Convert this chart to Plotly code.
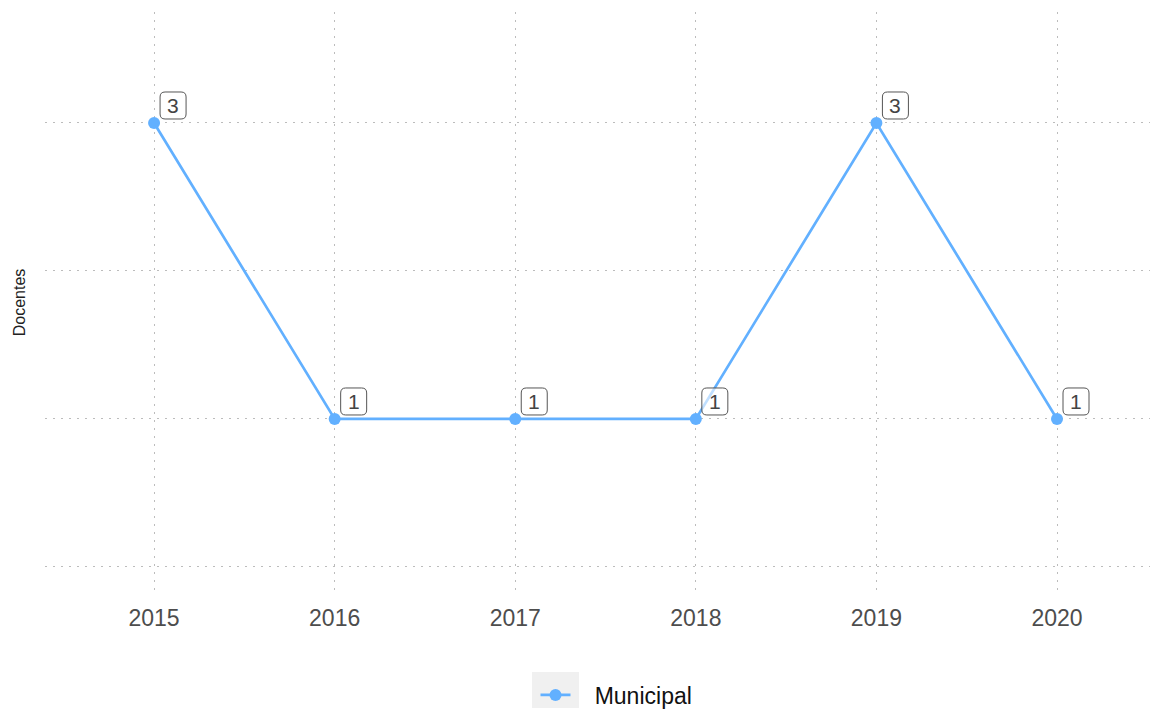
import plotly.graph_objects as go

years = [2015, 2016, 2017, 2018, 2019, 2020]
docentes = [3, 1, 1, 1, 3, 1]
series_name = "Municipal"

line_color = "#62b0ff"
grid_color = "#bcbcbc"
font_family = "Liberation Sans, Arial, sans-serif"

# plot-area geometry in pixels (used for paper-coordinate placement)
W, H = 1157, 709
L, R, T, B = 45, 7, 12, 116
PW, PH = W - L - R, H - T - B

fig = go.Figure()
fig.add_trace(go.Scatter(
    x=years, y=docentes, name="&nbsp;&nbsp;&nbsp;" + series_name,
    mode="lines+markers",
    line=dict(color=line_color, width=2.7),
    marker=dict(color=line_color, size=12),
    showlegend=True,
))

# value labels in rounded boxes, offset up-right of each point
def rounded_box(x0, y0, x1, y1, r):
    return (f"M{x0+r},{y0} L{x1-r},{y0} Q{x1},{y0} {x1},{y0+r} "
            f"L{x1},{y1-r} Q{x1},{y1} {x1-r},{y1} L{x0+r},{y1} "
            f"Q{x0},{y1} {x0},{y1-r} L{x0},{y0+r} Q{x0},{y0} {x0+r},{y0} Z")

for xv, yv in zip(years, docentes):
    fig.add_shape(
        type="path", xref="x", yref="y",
        xsizemode="pixel", ysizemode="pixel",
        xanchor=xv, yanchor=yv,
        path=rounded_box(6, 4, 32, 31, 5),
        line=dict(color="#555555", width=1),
        fillcolor="rgba(255,255,255,0.6)",
        layer="above",
    )
    fig.add_annotation(
        x=xv, y=yv, xref="x", yref="y", text=str(yv),
        showarrow=False, xshift=19, yshift=17.5,
        font=dict(size=21, color="#444444", family=font_family),
    )

# grey backdrop behind the legend key
fig.add_shape(
    type="rect", xref="paper", yref="paper",
    x0=(532 - L) / PW, x1=(579 - L) / PW,
    y0=(H - B - 708) / PH, y1=(H - B - 672) / PH,
    fillcolor="#f0f0f0", line=dict(width=0), layer="below",
)

fig.update_layout(
    width=W, height=H,
    margin=dict(l=L, r=R, t=T, b=B),
    paper_bgcolor="white", plot_bgcolor="white",
    font=dict(family=font_family),
    xaxis=dict(
        range=[2014.396, 2020.515],
        tickvals=years, ticktext=[str(y) for y in years],
        showgrid=True, gridcolor=grid_color, griddash="1.5px,6.5px", gridwidth=1.2,
        zeroline=False, showline=False, ticks="", automargin=False,
        tickfont=dict(size=23, color="#4d4d4d"),
        ticklabelstandoff=9,
    ),
    yaxis=dict(
        range=[-0.176, 3.75],
        tickvals=[0, 1, 2, 3], showticklabels=False,
        showgrid=True, gridcolor=grid_color, griddash="1.5px,6.5px", gridwidth=1.2,
        zeroline=False, showline=False, ticks="", automargin=False,
        title=dict(text="Docentes", font=dict(size=16, color="#222222"), standoff=14),
    ),
    legend=dict(
        orientation="h", x=0.5 + 19 / PW, xanchor="center",
        yref="container", y=1 - 695 / H, yanchor="middle",
        font=dict(size=23, color="#111111"),
        bgcolor="rgba(0,0,0,0)",
    ),
)

fig.write_html("out.html")
